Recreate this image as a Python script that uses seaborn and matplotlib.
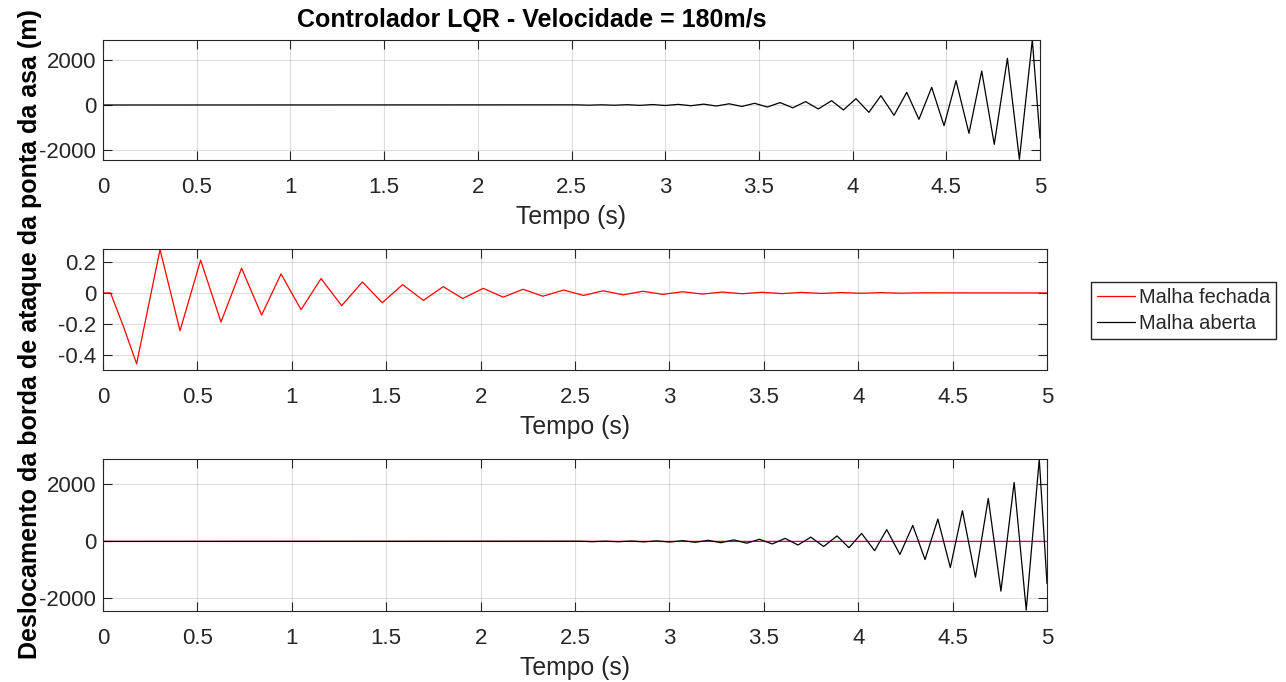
import matplotlib
matplotlib.use("Agg")
import matplotlib.pyplot as plt
import seaborn as sns

# Malha aberta (open loop) - extrema
t_aberta = [0.0, 2.525, 2.593, 2.661, 2.729, 2.797, 2.865, 2.933, 3.001, 3.069,
            3.137, 3.205, 3.273, 3.341, 3.409, 3.477, 3.545, 3.613, 3.681, 3.749,
            3.817, 3.888, 3.951, 4.018, 4.087, 4.151, 4.221, 4.289, 4.354, 4.422,
            4.488, 4.552, 4.621, 4.689, 4.756, 4.826, 4.890, 4.959, 5.0]
y_aberta = [0, 7, -8, 9, -11, 13, -16, 19, -22, 27,
            -32, 38, -45, 53, -63, 75, -89, 106, -126, 150,
            -178, 193, -222, 281, -326, 415, -459, 563, -637, 785,
            -919, 1081, -1259, 1511, -1748, 2074, -2415, 2889, -1481]

# Malha fechada (closed loop, LQR) - extrema
t_fechada = [0.0, 0.04, 0.108, 0.178, 0.302, 0.408, 0.517, 0.625, 0.734, 0.840,
             0.943, 1.049, 1.155, 1.264, 1.374, 1.479, 1.587, 1.697, 1.802, 1.905,
             2.014, 2.12, 2.225, 2.33, 2.44, 2.545, 2.65, 2.755, 2.86, 2.965,
             3.07, 3.175, 3.28, 3.385, 3.49, 3.595, 3.70, 3.805, 3.91, 4.015,
             4.12, 4.225, 4.33, 5.0]
y_fechada = [0.0, 0.0, -0.216, -0.458, 0.281, -0.244, 0.212, -0.188, 0.160, -0.143,
             0.123, -0.108, 0.093, -0.082, 0.071, -0.063, 0.054, -0.048, 0.041, -0.036,
             0.030, -0.027, 0.024, -0.021, 0.019, -0.016, 0.014, -0.012, 0.011, -0.009,
             0.008, -0.007, 0.006, -0.005, 0.0045, -0.004, 0.0035, -0.003, 0.0025, -0.002,
             0.002, -0.0015, 0.001, 0.0]

x_ticks = [0, 0.5, 1, 1.5, 2, 2.5, 3, 3.5, 4, 4.5, 5]
x_tick_labels = ["0", "0.5", "1", "1.5", "2", "2.5", "3", "3.5", "4", "4.5", "5"]
y_ticks_m = [-2000, 0, 2000]
y_tick_labels_m = ["-2000", "0", "2000"]
y_ticks_f = [-0.4, -0.2, 0, 0.2]
y_tick_labels_f = ["-0.4", "-0.2", "0", "0.2"]

titulo = "Controlador LQR - Velocidade = 180m/s"
rotulo_y = "Deslocamento da borda de ataque da ponta da asa (m)"
rotulo_x = "Tempo (s)"
legenda = ["Malha fechada", "Malha aberta"]

sns.set_style("ticks")
plt.rcParams["font.family"] = ["Liberation Sans", "DejaVu Sans"]

W, H = 1286, 682
fig = plt.figure(figsize=(W / 100, H / 100), dpi=100)

def box(left, right, top, bottom):
    return [left / W, 1 - bottom / H, (right - left) / W, (bottom - top) / H]

ax1 = fig.add_axes(box(103, 1040, 40, 160))
ax2 = fig.add_axes(box(103, 1047, 249.5, 370))
ax3 = fig.add_axes(box(103, 1047, 459.3, 611))

dark = "#262626"


def style_axes(ax, yticks, ylabels, ylim):
    ax.set_xlim(0, 5)
    ax.set_ylim(*ylim)
    ax.set_xticks(x_ticks)
    ax.set_xticklabels(x_tick_labels)
    ax.set_yticks(yticks)
    ax.set_yticklabels(ylabels)
    ax.grid(True, color=dark, alpha=0.15, lw=0.8)
    ax.set_axisbelow(True)
    for sp in ax.spines.values():
        sp.set_visible(True)
        sp.set_color(dark)
        sp.set_linewidth(0.8)
    ax.tick_params(axis="both", direction="in", length=6.8, width=0.8,
                   color=dark, labelcolor=dark, labelsize=16,
                   top=True, right=True)
    ax.tick_params(axis="x", pad=12)
    ax.tick_params(axis="y", pad=5)
    ax.set_xlabel(rotulo_x, fontsize=17.8, color=dark, labelpad=5)
    ax.set_ylabel("")


sns.lineplot(x=t_aberta, y=y_aberta, ax=ax1, color="black", lw=0.9,
             estimator=None, sort=False)
style_axes(ax1, y_ticks_m, y_tick_labels_m, (-2445, 2889))

sns.lineplot(x=t_fechada, y=y_fechada, ax=ax2, color="red", lw=0.9,
             estimator=None, sort=False)
style_axes(ax2, y_ticks_f, y_tick_labels_f, (-0.498, 0.281))

sns.lineplot(x=t_fechada, y=y_fechada, ax=ax3, color="red", lw=0.9,
             estimator=None, sort=False)
sns.lineplot(x=t_aberta, y=y_aberta, ax=ax3, color="black", lw=0.9,
             estimator=None, sort=False)
style_axes(ax3, y_ticks_m, y_tick_labels_m, (-2445, 2885))

handles = ax3.get_lines()[:2]
fig.legend(handles, legenda, loc="upper left",
           bbox_to_anchor=(1091 / W, 1 - 282 / H), borderaxespad=0,
           fontsize=14.4, frameon=True, fancybox=False, edgecolor=dark,
           framealpha=1, handlelength=1.9, handletextpad=0.2,
           labelspacing=0.35, borderpad=0.3)

fig.text(531.5 / W, 1 - 20 / H, titulo, ha="center", va="center",
         fontsize=18, fontweight="bold", color="black")
fig.text(30 / W, 1 - 334 / H, rotulo_y, ha="center", va="center",
         rotation=90, fontsize=18, fontweight="bold", color="black")

fig.savefig("out.png", dpi=100)
